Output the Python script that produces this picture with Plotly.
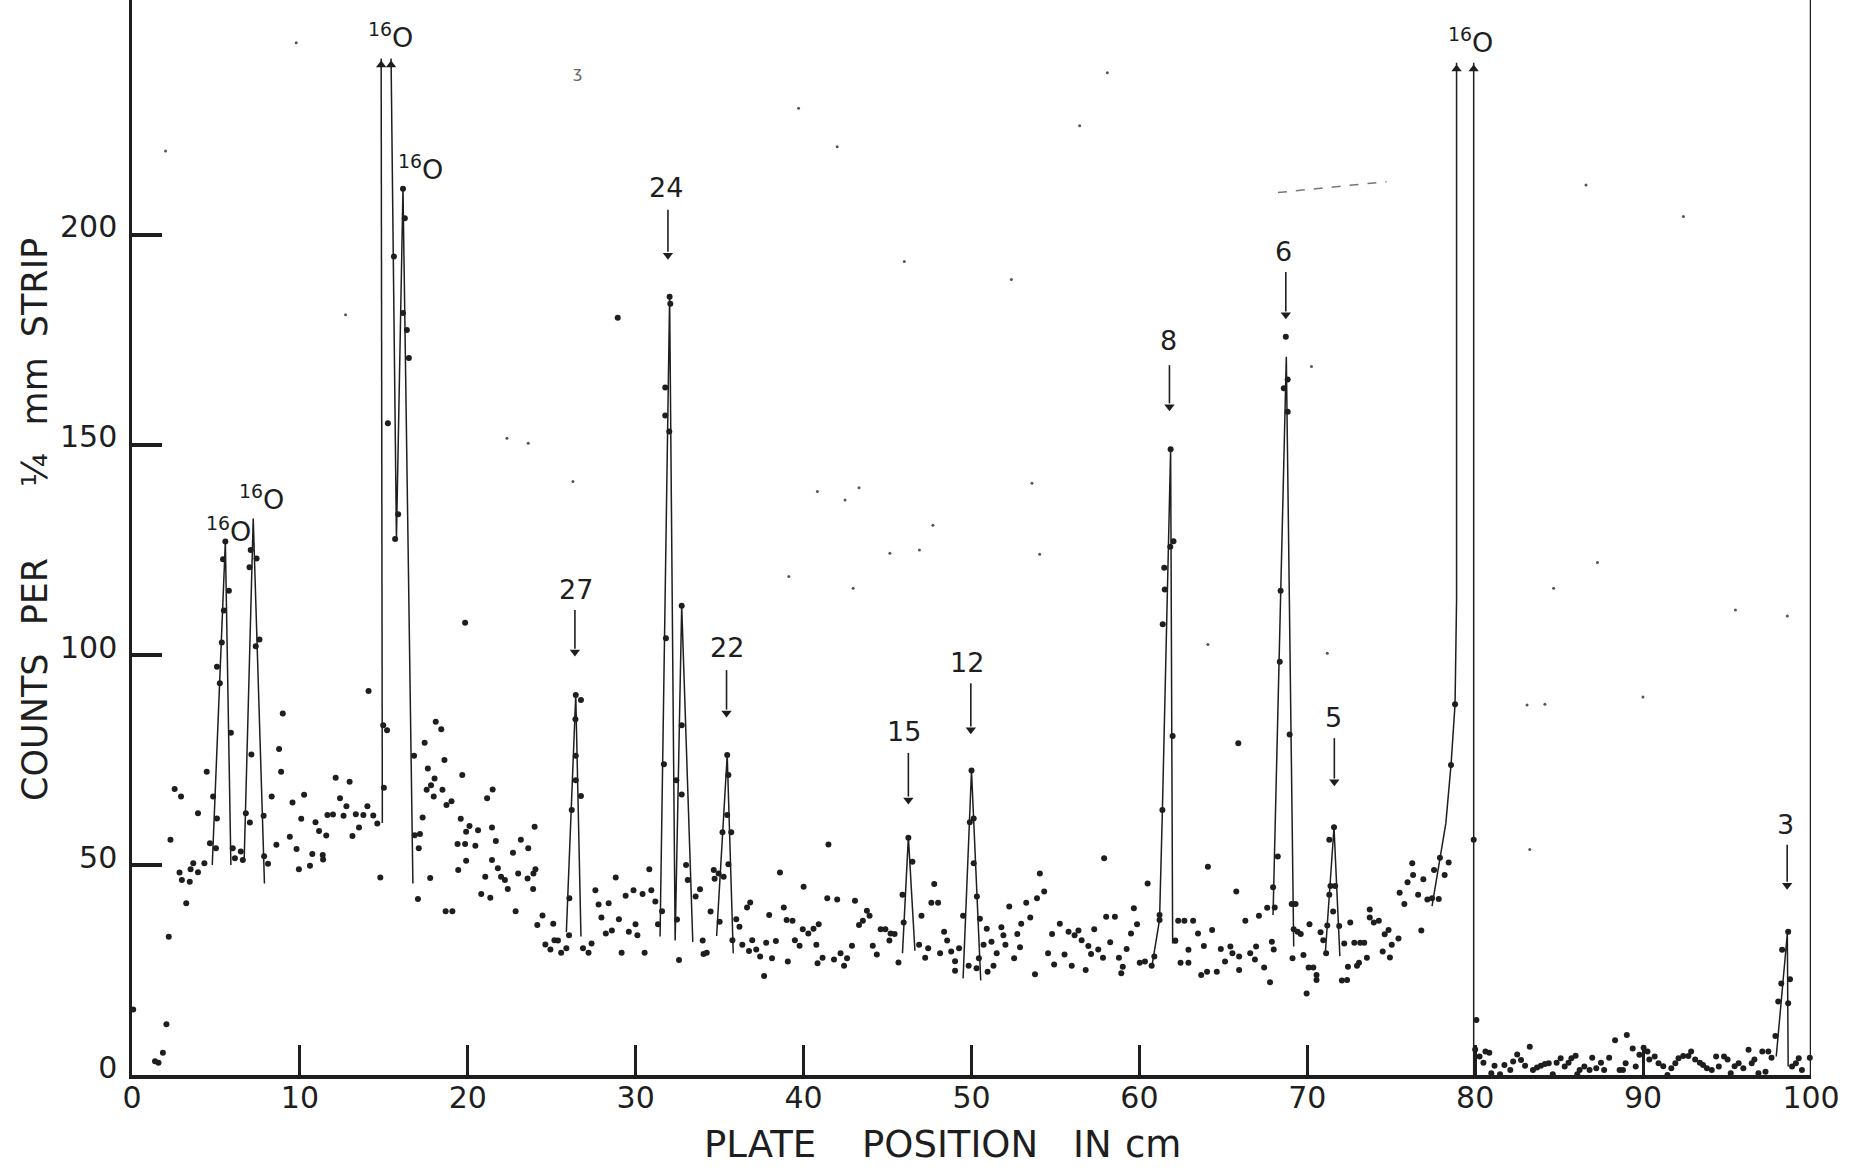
import plotly.graph_objects as go

# ---------------- data ----------------
# plotted counts (plate position in cm, counts per 1/4 mm strip)
dot_x = [0.07, 1.37, 1.58, 1.84, 2.05, 2.19, 2.29, 2.54, 2.83, 2.92, 2.97, 3.23, 3.44, 3.49, 3.65, 3.93, 3.93, 4.31,
         4.45, 4.64, 4.83, 5.0, 5.06, 5.06, 5.23, 5.35, 5.47, 5.42, 5.56, 5.77, 5.89, 6.0, 6.13, 6.48, 6.6, 6.78, 7.02,
         7.11, 7.0, 7.07, 7.42, 7.37, 7.59, 7.84, 7.87, 8.1, 8.32, 8.6, 8.76, 8.88, 8.98, 9.4, 9.56, 9.8, 9.94, 10.08,
         10.25, 10.6, 10.74, 10.93, 11.14, 11.36, 11.38, 11.57, 11.64, 11.97, 12.13, 12.39, 12.6, 12.77, 12.96, 13.13,
         13.33, 13.52, 13.78, 14.02, 14.09, 14.37, 14.61, 14.79, 14.96, 15.19, 15.0, 15.24, 15.6, 15.67, 15.85, 16.14,
         16.25, 16.14, 16.37, 16.49, 16.8, 16.84, 17.03, 17.08, 17.15, 17.31, 17.43, 17.55, 17.62, 17.76, 17.81, 17.97,
         18.02, 18.09, 18.42, 18.49, 18.61, 18.68, 18.73, 19.03, 19.08, 19.39, 19.43, 19.58, 19.67, 19.84, 19.84, 19.9,
         19.9, 20.1, 20.45, 20.61, 20.8, 21.04, 21.15, 21.34, 21.44, 21.44, 21.48, 21.67, 21.79, 21.98, 22.21, 22.38,
         22.69, 22.85, 23.0, 23.16, 23.56, 23.6, 23.89, 23.91, 23.98, 24.03, 24.14, 24.45, 24.62, 24.92, 25.09, 25.16,
         25.37, 25.56, 25.87, 26.03, 26.05, 26.19, 26.43, 26.43, 26.41, 26.43, 26.74, 26.74, 26.86, 27.19, 27.37, 27.6,
         27.79, 27.96, 28.22, 28.39, 28.58, 28.81, 28.93, 29.0, 29.16, 29.4, 29.59, 29.87, 29.99, 30.1, 30.41, 30.53,
         30.81, 30.93, 31.17, 31.33, 31.57, 31.68, 31.8, 31.76, 32.0, 31.76, 32.06, 32.02, 32.42, 32.74, 32.74, 32.74,
         32.46, 32.58, 33.0, 33.1, 33.57, 33.83, 33.99, 34.04, 34.23, 34.46, 34.65, 34.7, 34.94, 35.0, 35.17, 35.24,
         35.45, 35.45, 35.52, 35.52, 35.69, 35.76, 35.99, 36.18, 36.35, 36.63, 36.75, 36.82, 36.94, 37.18, 37.41, 37.65,
         37.77, 37.95, 38.12, 38.35, 38.59, 38.82, 38.99, 39.06, 39.34, 39.48, 39.76, 39.95, 40.0, 40.28, 40.59, 40.76,
         40.83, 40.9, 41.13, 41.41, 41.48, 41.81, 42.0, 42.2, 42.41, 42.59, 42.88, 43.06, 43.3, 43.53, 43.77, 43.93,
         44.12, 44.36, 44.59, 44.87, 45.11, 45.18, 45.42, 45.65, 45.89, 45.96, 46.24, 46.48, 46.88, 47.02, 47.24, 47.42,
         47.61, 47.78, 48.01, 48.13, 48.37, 48.55, 48.79, 49.02, 49.02, 49.26, 49.5, 49.83, 49.9, 50.0, 50.13, 50.13,
         50.32, 50.5, 50.3, 50.44, 50.72, 50.91, 50.96, 51.19, 51.31, 51.5, 51.78, 51.9, 52.02, 52.25, 52.54, 52.73,
         52.89, 52.96, 53.26, 53.5, 53.78, 53.9, 54.07, 54.33, 54.56, 54.8, 54.92, 55.26, 55.54, 55.78, 55.97, 56.14,
         56.37, 56.56, 56.8, 56.96, 57.12, 57.31, 57.55, 57.83, 57.9, 58.02, 58.26, 58.54, 58.78, 58.92, 59.01, 59.24,
         59.5, 59.67, 59.86, 60.02, 60.33, 60.49, 60.73, 60.89, 61.2, 61.2, 61.37, 61.39, 61.48, 61.51, 61.84, 61.86,
         62.03, 61.98, 62.14, 62.31, 62.45, 62.68, 62.92, 62.92, 63.2, 63.49, 63.68, 63.84, 64.03, 64.08, 64.33, 64.61,
         64.85, 65.1, 65.42, 65.54, 65.77, 65.89, 65.94, 65.94, 66.31, 66.6, 66.88, 66.95, 67.12, 67.43, 67.61, 67.78,
         67.89, 68.0, 67.96, 68.06, 68.24, 68.36, 68.41, 68.83, 68.6, 68.83, 68.72, 68.95, 69.07, 69.3, 69.12, 69.19,
         69.42, 69.61, 69.77, 69.96, 70.13, 70.08, 70.36, 70.55, 70.55, 70.79, 70.95, 71.12, 71.19, 71.31, 71.38, 71.66,
         71.54, 71.31, 71.59, 71.9, 72.06, 72.2, 72.37, 72.42, 72.56, 72.8, 72.96, 73.08, 73.15, 73.39, 73.55, 73.72,
         73.72, 73.96, 74.26, 74.49, 74.61, 74.84, 74.92, 75.03, 75.43, 75.5, 75.78, 75.97, 76.25, 76.3, 76.6, 76.79,
         76.91, 77.15, 77.43, 77.55, 77.83, 77.9, 78.18, 78.42, 78.56, 78.8, 79.91, 80.07, 80.0, 80.26, 80.49, 80.61,
         80.84, 80.96, 81.15, 81.48, 81.74, 82.09, 82.26, 82.5, 82.73, 82.97, 83.25, 83.44, 83.68, 83.91, 84.15, 84.38,
         84.62, 84.85, 85.09, 85.33, 85.56, 85.73, 85.98, 86.08, 86.22, 86.5, 86.81, 86.97, 87.21, 87.49, 87.68, 87.98,
         88.33, 88.6, 88.8, 88.96, 89.03, 89.38, 89.56, 89.78, 90.03, 90.26, 90.37, 90.69, 90.92, 91.2, 91.45, 91.68,
         91.92, 92.11, 92.39, 92.7, 92.86, 93.1, 93.38, 93.57, 93.8, 94.09, 94.35, 94.51, 94.82, 95.03, 95.22, 95.45,
         95.69, 95.97, 96.28, 96.47, 96.63, 96.87, 97.1, 97.29, 97.46, 97.65, 97.88, 98.05, 98.23, 98.28, 98.64, 98.64,
         98.75, 98.87, 99.1, 99.27, 99.46, 99.93]
dot_y = [15.6, 3.3, 2.9, 5.3, 12.1, 32.9, 56.0, 68.1, 48.2, 66.3, 46.4, 40.9, 46.0, 49.0, 50.4, 48.3, 62.3, 50.4,
         72.2, 55.2, 66.3, 54.0, 61.1, 97.2, 93.3, 103.0, 110.6, 122.8, 127.0, 115.3, 81.5, 54.0, 51.6, 53.2, 51.2, 62.3, 60.1,
         76.3, 120.9, 125.0, 123.0, 102.1, 103.7, 61.7, 52.1, 50.3, 66.3, 54.8, 77.6, 72.2, 86.1, 56.7, 64.9, 53.8, 49.0, 61.0,
         66.7, 49.8, 52.6, 60.2, 58.1, 52.4, 51.3, 57.0, 61.9, 62.0, 70.8, 65.9, 61.7, 64.0, 69.8, 56.9,
         62.1, 58.9, 61.9, 64.0, 91.4, 61.8, 59.9, 47.0, 83.3, 82.1, 68.4, 155.2, 194.9, 127.6, 133.5, 211.0,
         204.0, 181.4, 177.4, 170.7, 76.0, 57.1, 41.9, 54.0, 57.4, 61.3, 79.1, 67.9, 73.0, 46.9, 69.0, 66.3,
         70.6, 84.1, 82.3, 67.9, 75.0, 39.0, 64.3, 65.2, 39.0, 55.0, 48.8, 61.0, 71.4, 107.7, 55.0, 57.9,
         51.0, 59.3, 54.6, 58.3, 43.1, 47.2, 65.9, 42.2, 58.9, 51.2, 68.0, 55.7, 49.2, 47.2, 46.4, 44.3,
         52.9, 39.0, 48.0, 56.0, 46.8, 54.0, 44.3, 48.0, 59.1, 49.0, 35.7, 38.0, 31.1, 29.9, 36.0, 32.1,
         32.0, 29.1, 30.2, 33.3, 42.1, 63.1, 70.2, 76.0, 84.7, 90.5, 89.3, 66.4, 30.2, 29.1, 31.3, 44.0,
         40.6, 37.5, 33.7, 40.9, 34.4, 47.0, 180.3, 37.1, 29.1, 42.7, 34.1, 44.0, 35.9, 33.3, 43.1, 29.1,
         49.0, 44.0, 41.3, 35.9, 39.0, 74.0, 104.0, 157.0, 153.2, 163.7, 183.6, 185.3, 70.2, 83.3, 111.7, 66.8,
         37.0, 27.4, 50.0, 46.4, 42.5, 44.2, 32.0, 28.8, 29.1, 38.9, 48.8, 46.7, 48.0, 36.5, 57.8, 47.2,
         61.9, 76.2, 71.4, 50.2, 57.8, 32.1, 37.1, 35.3, 31.0, 39.9, 29.5, 41.1, 32.1, 29.9, 28.2, 23.6,
         31.5, 38.1, 27.8, 31.9, 48.2, 39.9, 36.9, 27.0, 36.7, 32.1, 30.8, 34.7, 44.8, 33.7, 34.8, 31.0,
         26.6, 35.9, 27.9, 42.1, 54.9, 27.5, 41.8, 29.0, 26.0, 27.8, 30.8, 41.5, 35.7, 36.7, 39.1, 37.9,
         30.8, 28.7, 34.7, 34.7, 32.0, 33.7, 33.6, 26.8, 42.9, 36.3, 56.5, 50.8, 31.0, 37.9, 27.9, 30.2,
         41.0, 45.5, 41.0, 29.0, 34.1, 32.0, 29.4, 27.1, 24.8, 30.2, 37.9, 26.0, 60.2, 72.5, 61.1, 50.4,
         42.5, 37.2, 25.4, 27.8, 31.0, 34.8, 24.6, 31.7, 26.0, 29.0, 35.2, 33.3, 31.0, 40.1, 27.8, 33.6,
         30.4, 36.0, 41.0, 37.5, 24.0, 42.1, 48.0, 43.7, 29.0, 33.6, 26.3, 36.0, 28.7, 34.1, 26.0, 33.3,
         34.4, 32.1, 25.0, 30.7, 28.8, 34.7, 29.9, 27.9, 51.6, 37.7, 31.6, 37.7, 27.9, 24.2, 25.8, 30.0,
         33.7, 39.7, 35.9, 26.7, 27.0, 45.6, 26.0, 28.2, 36.9, 38.1, 63.1, 107.3, 120.8, 115.6, 125.8, 149.0,
         127.1, 80.7, 32.0, 36.7, 26.7, 36.7, 26.7, 29.8, 36.7, 33.7, 23.8, 30.7, 24.6, 49.6, 34.5, 24.6,
         30.0, 27.0, 30.6, 29.0, 43.7, 79.0, 28.2, 25.0, 36.7, 29.0, 27.5, 30.6, 37.9, 25.6, 39.8, 22.1,
         31.7, 29.9, 44.7, 39.9, 52.0, 98.4, 115.3, 157.9, 163.5, 165.6, 175.8, 81.1, 40.7, 40.7, 27.8, 34.7,
         34.1, 33.6, 28.6, 19.4, 35.9, 25.6, 25.6, 23.8, 22.6, 34.0, 32.1, 29.0, 35.6, 42.9, 45.0, 45.0,
         38.9, 56.0, 59.0, 35.5, 22.5, 31.3, 22.6, 25.8, 36.3, 31.5, 26.0, 26.7, 31.5, 31.5, 27.9, 39.4,
         37.5, 36.3, 36.7, 29.4, 33.5, 34.5, 28.0, 31.0, 32.5, 43.4, 40.7, 45.9, 50.4, 47.6, 42.9, 34.4,
         46.6, 41.8, 42.1, 48.8, 41.9, 51.7, 47.6, 50.6, 73.8, 88.3, 56.0, 13.1, 6.1, 4.4, 2.9, 5.6,
         5.3, 0.4, 2.2, 0.2, 2.4, 1.2, 3.2, 4.9, 3.6, 2.2, 6.7, 1.2, 1.8, 2.2, 2.6, 2.8,
         0.2, 2.9, 4.0, 2.0, 2.9, 4.0, 4.6, 0.2, 1.2, 2.0, 1.2, 4.1, 1.6, 2.9, 1.2, 4.1,
         8.3, 1.2, 1.2, 2.8, 9.5, 6.3, 2.0, 4.8, 6.5, 5.6, 3.7, 4.4, 2.8, 2.1, 0.0, 1.6,
         2.8, 4.0, 4.5, 4.5, 5.6, 3.7, 2.9, 2.4, 1.6, 1.2, 4.4, 2.0, 4.4, 3.7, 0.4, 2.1,
         2.8, 1.6, 6.0, 2.8, 3.7, 0.4, 5.6, 0.8, 5.6, 4.1, 9.3, 17.5, 21.8, 29.8, 34.1, 17.1,
         22.8, 2.0, 2.8, 4.0, 1.2, 4.1]

# small specks of the scanned sheet
speck_x = [2.0, 9.78, 12.72, 26.26, 22.33, 23.6, 39.12, 40.82, 42.47, 43.3, 42.95, 45.14, 46.9, 47.7, 53.6, 54.06,
           46.0, 52.37, 56.44, 42.0, 39.7, 58.09, 70.25, 86.6, 92.4, 71.19, 83.09, 84.15, 84.67, 87.28, 89.99,
           95.5, 98.59, 83.25, 64.08]
speck_y = [220, 245.8, 181, 141.3, 151.6, 150.4, 118.7, 138.9, 136.9, 139.8, 115.9, 124.2, 125, 130.9, 140.9, 124,
           193.7, 189.4, 226, 221, 230.2, 238.6, 168.7, 211.9, 204.4, 100.4, 88.1, 88.3, 115.9, 122, 90,
           110.7, 109.3, 53.7, 102.5]

# hand-drawn peak curves (vertices)
curve_16o_a_x = [4.78, 5.56, 5.89]
curve_16o_a_y = [50, 127, 50]
curve_16o_b_x = [6.68, 7.22, 7.89]
curve_16o_b_y = [51, 132.5, 45.6]
curve_16o_c1_x = [14.91, 14.84]
curve_16o_c1_y = [60, 242]
curve_16o_c2_x = [15.43, 15.75, 16.14, 16.73]
curve_16o_c2_y = [242, 127.6, 211, 45.6]
curve_27_x = [25.87, 26.43, 26.74]
curve_27_y = [34, 90.5, 33]
curve_24_x = [31.45, 32.02, 32.35, 32.74, 33.4]
curve_24_y = [33, 185.3, 32, 111.7, 31.7]
curve_22_x = [34.82, 35.45, 35.81]
curve_22_y = [33.1, 76.2, 29]
curve_15_x = [45.89, 46.24, 46.63]
curve_15_y = [29, 56.7, 29.6]
curve_12_x = [49.5, 50.0, 50.55]
curve_12_y = [23, 72.5, 22.5]
curve_8_x = [60.75, 61.2, 61.37, 61.86, 61.98, 62.26]
curve_8_y = [26, 37, 63, 149, 31.5, 31.5]
curve_6_x = [67.96, 68.75, 69.19]
curve_6_y = [38.1, 171, 30.6]
curve_5_x = [71.07, 71.59, 71.94]
curve_5_y = [28.8, 59, 28.3]
curve_16o_d1_x = [77.43, 77.9, 78.25, 78.56, 78.8, 78.89, 78.89]
curve_16o_d1_y = [40.2, 51.7, 59.9, 73.8, 88.3, 113, 241]
curve_16o_d2_x = [79.91, 79.91]
curve_16o_d2_y = [241, 0]
curve_3_x = [97.93, 98.59, 98.64]
curve_3_y = [4.4, 33.7, 2]

streak_x = [68.25, 74.72]
streak_y = [210.1, 212.7]

# peak labels: text, centre position
label_text = ["27", "24", "22", "15", "12", "8", "6", "5", "3"]
label_x = [26.42, 31.82, 35.41, 45.99, 49.74, 61.74, 68.56, 71.57, 98.49]
label_y = [115.7, 211.2, 101.8, 81.7, 98.2, 174.8, 196.0, 85.2, 59.6]
# down arrows under the labels: x, tail y, head y
arrow_x = [26.38, 31.92, 35.41, 46.24, 49.96, 61.79, 68.72, 71.61, 98.58]
arrow_tail_y = [110.7, 206.0, 96.4, 76.7, 93.3, 169.0, 191.2, 80.2, 54.8]
arrow_head_y = [99.5, 194.0, 85.0, 64.3, 81.0, 157.9, 179.8, 68.6, 44.0]

# 16O labels
o16_x = [5.74, 7.72, 15.42, 17.21, 79.73]
o16_y = [129.8, 137.5, 247.6, 216.0, 246.2]
# upward arrowheads of the off-scale peaks
up_arrow_x = [14.84, 15.43, 78.89, 79.91]
up_arrow_y = [240.5, 240.5, 239.5, 239.5]

x_ticks = [0, 10, 20, 30, 40, 50, 60, 70, 80, 90, 100]
y_ticks = [0, 50, 100, 150, 200]

INK = "#1e1e1e"
FONT = "DejaVu Sans"

fig = go.Figure()

curves = [
    (curve_16o_a_x, curve_16o_a_y), (curve_16o_b_x, curve_16o_b_y),
    (curve_16o_c1_x, curve_16o_c1_y), (curve_16o_c2_x, curve_16o_c2_y),
    (curve_27_x, curve_27_y), (curve_24_x, curve_24_y), (curve_22_x, curve_22_y),
    (curve_15_x, curve_15_y), (curve_12_x, curve_12_y), (curve_8_x, curve_8_y),
    (curve_6_x, curve_6_y), (curve_5_x, curve_5_y),
    (curve_16o_d1_x, curve_16o_d1_y), (curve_16o_d2_x, curve_16o_d2_y),
    (curve_3_x, curve_3_y),
]
for cx, cy in curves:
    fig.add_trace(go.Scatter(x=cx, y=cy, mode="lines", line=dict(color=INK, width=1.5),
                             hoverinfo="skip", cliponaxis=False))

# arrow stems (label arrows) built from the arrow arrays
stem_x, stem_y = [], []
for ax_, ty, hy in zip(arrow_x, arrow_tail_y, arrow_head_y):
    stem_x += [ax_, ax_, None]
    stem_y += [ty, hy + 2, None]
fig.add_trace(go.Scatter(x=stem_x, y=stem_y, mode="lines", line=dict(color=INK, width=1.6),
                         hoverinfo="skip"))
fig.add_trace(go.Scatter(x=arrow_x, y=[h + 1.2 for h in arrow_head_y], mode="markers",
                         marker=dict(symbol="triangle-down", size=9, color=INK,
                                     line=dict(width=0)), hoverinfo="skip"))
fig.add_trace(go.Scatter(x=up_arrow_x, y=up_arrow_y, mode="markers",
                         marker=dict(symbol="triangle-up", size=9, color=INK,
                                     line=dict(width=0)), hoverinfo="skip", cliponaxis=False))

fig.add_trace(go.Scatter(x=streak_x, y=streak_y, mode="lines",
                         line=dict(color="#777", width=1.5, dash="dash"), hoverinfo="skip"))

fig.add_trace(go.Scatter(x=speck_x, y=speck_y, mode="markers",
                         marker=dict(size=3, color="#555"), hoverinfo="skip"))

fig.add_trace(go.Scatter(x=dot_x, y=dot_y, mode="markers",
                         marker=dict(size=6, color=INK), cliponaxis=False))

annotations = []
for t, lx, ly in zip(label_text, label_x, label_y):
    annotations.append(dict(x=lx, y=ly, xref="x", yref="y", text=t, showarrow=False,
                            xanchor="center", yanchor="middle",
                            font=dict(family=FONT, size=27, color=INK)))
for ox, oy in zip(o16_x, o16_y):
    annotations.append(dict(x=ox, y=oy, xref="x", yref="y", text="<sup>16</sup>O", showarrow=False,
                            xanchor="center", yanchor="middle",
                            font=dict(family=FONT, size=27, color=INK)))

# axis titles (placed word by word, as lettered on the sheet)
for word, px in zip(["PLATE", "POSITION", "IN", "cm"], [0.3738, 0.4874, 0.5722, 0.6081]):
    annotations.append(dict(x=px, y=-0.0651, xref="paper", yref="paper", text=word, showarrow=False,
                            xanchor="center", yanchor="middle",
                            font=dict(family=FONT, size=37, color=INK)))
for word, py in zip(["STRIP", "mm", "¼", "PER", "COUNTS"], [0.732, 0.636, 0.563, 0.450, 0.323]):
    annotations.append(dict(x=-0.0577, y=py, xref="paper", yref="paper", text=word, showarrow=False,
                            xanchor="center", yanchor="middle",
                            textangle=-90, font=dict(family=FONT, size=35, color=INK)))

# faint pencil squiggle
annotations.append(dict(x=26.56, y=238.6, xref="x", yref="y", text="ʒ", showarrow=False,
                        xanchor="center", yanchor="middle",
                        font=dict(family=FONT, size=16, color="#666")))

fig.update_layout(
    width=1850, height=1168,
    margin=dict(l=132, r=39, t=0, b=93),
    paper_bgcolor="white", plot_bgcolor="white",
    showlegend=False,
    annotations=annotations,
    shapes=[dict(type="line", xref="x", yref="paper", x0=100, x1=100, y0=0, y1=1,
                 line=dict(color=INK, width=2.5))],
    xaxis=dict(range=[0, 100], tickvals=x_ticks, ticktext=[str(v) for v in x_ticks],
               showgrid=False, zeroline=False, showline=True, linewidth=4, linecolor=INK,
               ticks="inside", ticklen=30, tickwidth=3, tickcolor=INK, ticklabelstandoff=-7,
               tickfont=dict(family=FONT, size=30, color=INK)),
    yaxis=dict(range=[0, 255.95], tickvals=y_ticks, ticktext=[str(v) for v in y_ticks],
               showgrid=False, zeroline=False, showline=True, linewidth=2.5, linecolor=INK,
               ticks="inside", ticklen=30, tickwidth=4, tickcolor=INK, ticklabelstandoff=6,
               ticklabelshift=-8,
               tickfont=dict(family=FONT, size=30, color=INK)),
)

fig.write_html("out.html", config={"displayModeBar": False},
               post_script="document.body.style.margin='0';document.body.style.overflow='hidden';")
